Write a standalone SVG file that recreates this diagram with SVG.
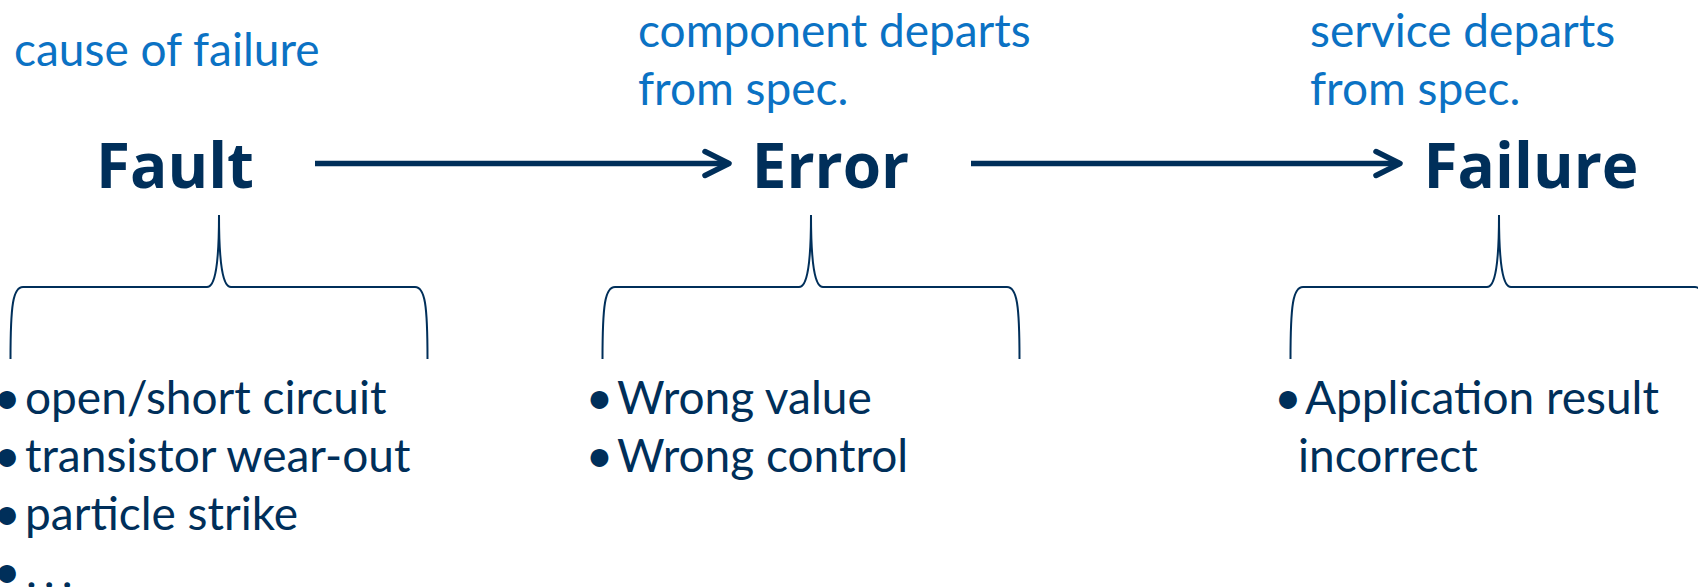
<svg xmlns="http://www.w3.org/2000/svg" width="1698" height="587" viewBox="0 0 1698 587">
<style>
.blue{font-family:Lato,"Liberation Sans",sans-serif;font-size:46px;fill:#0B72C4}
.head{font-family:"Open Sans","Liberation Sans",sans-serif;font-size:62px;font-weight:700;fill:#002F5A;text-anchor:middle}
.item{font-family:Lato,"Liberation Sans",sans-serif;font-size:46px;fill:#002F5A}
.bul{font-family:Lato,"Liberation Sans",sans-serif;font-size:48px;fill:#002F5A;text-anchor:middle}
.brace{fill:none;stroke:#002F5A;stroke-width:2}
.conn{fill:none;stroke:#002F5A;stroke-width:5.5;marker-end:url(#chev)}
</style>
<defs>
<marker id="chev" markerUnits="userSpaceOnUse" viewBox="-30 -16 34 32" refX="0" refY="0" markerWidth="34" markerHeight="32" orient="auto" overflow="visible">
<path d="M -24 -12 L 0 0 L -24 12" fill="none" stroke="#002F5A" stroke-width="5.5" stroke-linecap="round" stroke-linejoin="round"/>
</marker>
</defs>
<rect width="1698" height="587" fill="#ffffff"/>
<g id="connectors">
<line class="conn" x1="315" y1="163.5" x2="729" y2="163.5"/>
<line class="conn" x1="971" y1="163.5" x2="1400" y2="163.5"/>
</g>
<g id="fault">
<text class="blue" x="14" y="66">cause of failure</text>
<text class="head" x="175" y="188">Fault</text>
<path class="brace" d="M 10.5 359 C 10.5 305, 13 287, 23 287 L 207 287 C 215 287, 219 265, 219 215 C 219 265, 223 287, 231 287 L 415 287 C 425 287, 427.5 305, 427.5 359"/>
<text class="bul" x="7" y="414">•</text>
<text class="item" x="25" y="414">open/short circuit</text>
<text class="bul" x="7" y="472">•</text>
<text class="item" x="25" y="472">transistor wear-out</text>
<text class="bul" x="7" y="530">•</text>
<text class="item" x="25" y="530">particle strike</text>
<text class="bul" x="7" y="588">•</text>
<text class="item" x="26" y="588" style="letter-spacing:7px">...</text>
</g>
<g id="error">
<text class="blue" x="638" y="47">component departs</text>
<text class="blue" x="638" y="105">from spec.</text>
<text class="head" x="830.5" y="188">Error</text>
<path class="brace" d="M 602.5 359 C 602.5 305, 605 287, 615 287 L 799 287 C 807 287, 811 265, 811 215 C 811 265, 815 287, 823 287 L 1007 287 C 1017 287, 1019.5 305, 1019.5 359"/>
<text class="bul" x="599.5" y="414">•</text>
<text class="item" x="617" y="414">Wrong value</text>
<text class="bul" x="599.5" y="472">•</text>
<text class="item" x="617" y="472">Wrong control</text>
</g>
<g id="failure">
<text class="blue" x="1310" y="47">service departs</text>
<text class="blue" x="1310" y="105">from spec.</text>
<text class="head" x="1531" y="188">Failure</text>
<path class="brace" d="M 1290.5 359 C 1290.5 305, 1293 287, 1303 287 L 1487 287 C 1495 287, 1499 265, 1499 215 C 1499 265, 1503 287, 1511 287 L 1695 287 C 1705 287, 1707.5 305, 1707.5 359"/>
<text class="bul" x="1288" y="414">•</text>
<text class="item" x="1305" y="414">Application result</text>
<text class="item" x="1298" y="472">incorrect</text>
</g>
</svg>
